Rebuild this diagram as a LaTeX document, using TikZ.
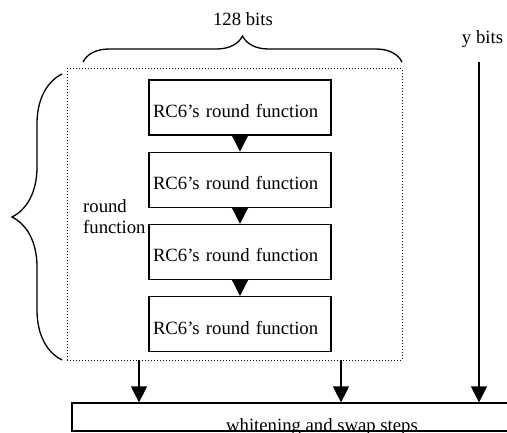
\documentclass[tikz,border=0pt]{standalone}
\usepackage{fontspec}
\setmainfont{Liberation Serif}
\usetikzlibrary{positioning, arrows.meta, decorations.pathreplacing}
\tikzset{x=1pt, y=1pt, % One unit is one point
node distance=16pt, % Gap between two rounds. Change if necessary.
every node/.style={ % Sets the font for each text
font=\fontsize{18.7}{21}\selectfont},
round box/.style={ % Sets the properties for each round
draw, line width=1.2pt,
text width=174pt, inner xsep=4pt, align=left,
minimum height=55pt, text height=20pt, text depth=0pt},
flow/.style={ % Makes arrows with filled triangle heads
draw, line width=1.2pt, -{Triangle[width=16pt,length=16pt]}},
curly/.style={ % Brace of a given amplitude
draw, line width=1.3pt, decorate, decoration={brace, amplitude=#1}}}

\begin{document}
\begin{tikzpicture}

    \useasboundingbox (0,0) rectangle (507,432);
    \clip (0,0) rectangle (507,432);

    \node[draw, dotted, line width=1pt, inner sep=0pt,
      minimum width=335pt, minimum height=291pt] (frame) at (234.5,217.5) {};

    \node[round box] (r1) at (240,324.5) {RC6’s round function};
    \node[round box, below=of r1] (r2) {RC6’s round function};
    \node[round box, below=of r2] (r3) {RC6’s round function};
    \node[round box, below=of r3] (r4) {RC6’s round function};

    \draw[flow] (r1) -- (r2);
    \draw[flow] (r2) -- (r3);
    \draw[flow] (r3) -- (r4);

    % text sits on the lower edge of the box
    \node[draw, line width=1.2pt, minimum width=500pt, minimum height=28pt,
      inner ysep=0pt, text height=28pt, text depth=0pt]
      (steps) at (322,15) {whitening and swap steps};

    \coordinate (out1) at (139,72);
    \coordinate (out2) at (341,72);
    \coordinate (ysrc) at (479,370);
    \draw[flow] (out1) -- (out1 |- steps.north);
    \draw[flow] (out2) -- (out2 |- steps.north);
    \draw[flow] (ysrc) -- (ysrc |- steps.north);

    \draw[curly=26pt] (83,370) -- (402,370);
    \node[anchor=base] (width) at (243,406) {128 bits};
    \node[anchor=base] (ywidth) at (482.5,388) {y bits};

    \draw[curly=50pt] (62,72) -- (62,358);
    \node[anchor=west, align=left, inner sep=0pt] (rf) at (83,215) {round\\function};

\end{tikzpicture}
\end{document}
